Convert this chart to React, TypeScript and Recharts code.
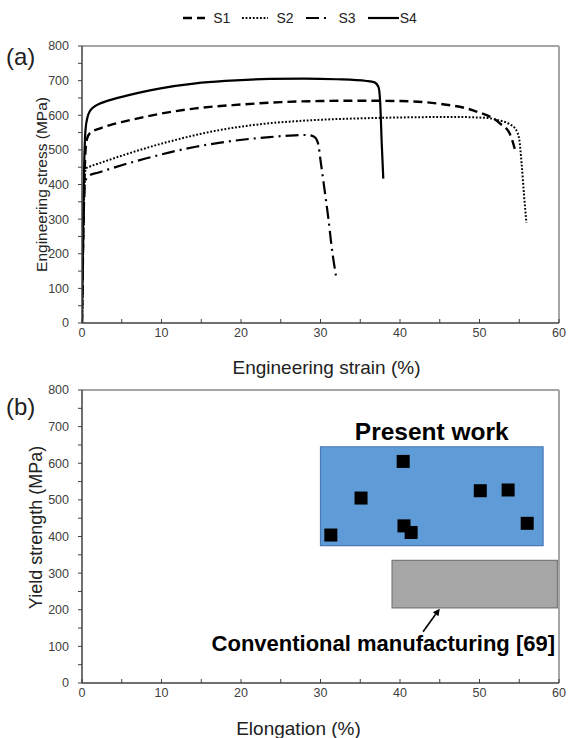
import {
  Label,
  Line,
  LineChart,
  ReferenceArea,
  ReferenceDot,
  ReferenceLine,
  Scatter,
  ScatterChart,
  XAxis,
  YAxis,
} from 'recharts';

// (a) engineering stress-strain curves
const s1Strain = [0, 0.2, 0.4, 0.6, 1.1, 2, 3.4, 5.5, 7.6, 10, 14.3, 20, 25, 30, 35, 40, 45, 49.2, 52.6, 53.8, 54.5];
const s1Stress = [0, 300, 480, 530, 551, 560, 571, 583, 594, 605, 620, 631, 638, 641, 642, 641, 633, 614, 576, 547, 498];

const s2Strain = [0, 0.2, 0.35, 0.5, 1, 2, 3.4, 5.5, 7.6, 10, 12, 14.3, 17, 20, 23.6, 27, 30, 35, 41, 47, 51, 52.5, 53.8, 54.6, 55, 55.3, 55.6, 55.9];
const s2Stress = [0, 300, 420, 446, 452, 460, 471, 487, 502, 518, 530, 543, 556, 567, 577, 583, 587, 591, 594, 595, 592, 585, 574, 558, 530, 460, 370, 289];

const s3Strain = [0, 0.2, 0.35, 0.6, 0.9, 2, 3.5, 5.5, 8, 10, 12, 14.3, 18, 23.6, 26, 28.3, 29.2, 29.7, 30, 30.4, 31, 31.4, 32];
const s3Stress = [0, 300, 400, 420, 426, 434, 445, 459, 475, 487, 498, 509, 523, 537, 541, 543, 538, 518, 470, 403, 300, 220, 129];

const s4Strain = [0, 0.15, 0.3, 0.45, 0.7, 1, 1.5, 2.2, 3, 5.5, 7.5, 9.7, 14.3, 18, 23.6, 28, 32, 35.8, 36.8, 37.3, 37.5, 37.7, 37.9];
const s4Stress = [0, 300, 480, 560, 595, 612, 624, 633, 640, 656, 667, 677, 692, 699, 705, 706, 704, 699, 695, 681, 640, 520, 417];

// (b) yield strength vs elongation
const elongation = [31.3, 35.1, 40.4, 40.5, 41.4, 50.1, 53.6, 56.0];
const yieldStrength = [404, 505, 605, 429, 411, 525, 527, 436];

const presentWorkRange = { elongation: [30, 58], strength: [375, 645] };
const conventionalRange = { elongation: [39, 59.8], strength: [205, 335] };

const strainTicks = [0, 5, 10, 15, 20, 25, 30, 35, 40, 45, 50, 55, 60];
const stressTicks = [0, 50, 100, 150, 200, 250, 300, 350, 400, 450, 500, 550, 600, 650, 700, 750, 800];

const zip = (xs: number[], ys: number[]) => xs.map((x, i) => ({ x, y: ys[i] }));

const series = [
  { name: 'S1', data: zip(s1Strain, s1Stress), dash: '9 5', width: 2.4 },
  { name: 'S2', data: zip(s2Strain, s2Stress), dash: '1.8 1.8', width: 2 },
  { name: 'S3', data: zip(s3Strain, s3Stress), dash: '13 5 2 5', width: 2.2 },
  { name: 'S4', data: zip(s4Strain, s4Stress), dash: undefined, width: 2.2 },
];

const points = zip(elongation, yieldStrength);

const FONT = '"Liberation Sans", Arial, sans-serif';
const AXIS = '#404040';
const BORDER = '#a6a6a6';

const XTick = ({ x, y, payload }: any) =>
  payload.value % 10 === 0 ? (
    <text x={x} y={y} dy="0.71em" textAnchor="middle" fontSize={12.5} fill={AXIS} fontFamily={FONT}>
      {payload.value}
    </text>
  ) : (
    <g />
  );

const YTick = ({ x, y, payload }: any) =>
  payload.value % 100 === 0 ? (
    <text x={x} y={y} dy="0.355em" textAnchor="end" fontSize={12.5} fill={AXIS} fontFamily={FONT}>
      {payload.value}
    </text>
  ) : (
    <g />
  );

const Square = ({ cx, cy }: any) => <rect x={cx - 6.5} y={cy - 6.5} width={13} height={13} fill="#000" />;

const Arrow = ({ x1, y1, x2, y2 }: any) => {
  const a = Math.atan2(y2 - y1, x2 - x1);
  const len = 7;
  const w = 3.5;
  const bx = x2 - len * Math.cos(a);
  const by = y2 - len * Math.sin(a);
  const px = -Math.sin(a) * w;
  const py = Math.cos(a) * w;
  return (
    <g>
      <line x1={x1} y1={y1} x2={bx} y2={by} stroke="#000" strokeWidth={1.6} />
      <polygon points={`${x2},${y2} ${bx + px},${by + py} ${bx - px},${by - py}`} fill="#000" />
    </g>
  );
};

const LegendSwatch = ({ dash, width, w }: { dash?: string; width: number; w: number }) => (
  <svg width={w} height={10} style={{ display: 'block' }}>
    <line x1={0} y1={5} x2={w} y2={5} stroke="#000" strokeWidth={width} strokeDasharray={dash} />
  </svg>
);

const legendWidths = [22, 26, 25, 31];

export default function App() {
  return (
    <div style={{ position: 'absolute', left: 0, top: 0, width: 568, height: 738, background: '#fff', fontFamily: FONT }}>
      <div
        style={{
          position: 'absolute',
          top: 10,
          left: 0,
          width: 612,
          display: 'flex',
          justifyContent: 'center',
          alignItems: 'center',
          fontSize: 14,
          color: '#222',
        }}
      >
        {series.map((s, i) => (
          <div key={s.name} style={{ display: 'flex', alignItems: 'center', marginRight: 12 }}>
            <LegendSwatch dash={s.dash} width={s.width} w={legendWidths[i]} />
            <span style={{ marginLeft: i === 3 ? 1 : 8 }}>{s.name}</span>
          </div>
        ))}
      </div>
      <div style={{ position: 'absolute', left: 6, top: 43, fontSize: 24, color: '#222' }}>(a)</div>
      <div style={{ position: 'absolute', left: 6, top: 393, fontSize: 24, color: '#222' }}>(b)</div>

      <div style={{ position: 'absolute', left: 0, top: 0 }}>
        <LineChart width={568} height={385} margin={{ top: 46, right: 9, left: 22, bottom: 32 }}>
          <XAxis
            type="number"
            dataKey="x"
            domain={[0, 60]}
            ticks={strainTicks}
            interval={0}
            allowDataOverflow
            height={30}
            tickSize={-4}
            tickMargin={9}
            tick={<XTick />}
            axisLine={{ stroke: AXIS, strokeWidth: 1.5 }}
            tickLine={{ stroke: AXIS }}
          >
            <Label value="Engineering strain (%)" position="bottom" offset={7.5} dx={6} fontSize={19} fill="#222" fontFamily={FONT} />
          </XAxis>
          <YAxis
            type="number"
            dataKey="y"
            domain={[0, 800]}
            ticks={stressTicks}
            interval={0}
            width={60}
            tickSize={4}
            tickMargin={9}
            tick={<YTick />}
            axisLine={{ stroke: AXIS, strokeWidth: 1.5 }}
            tickLine={{ stroke: AXIS }}
          >
            <Label value="Engineering stress (MPa)" angle={-90} position="center" dx={-11} fontSize={15.5} fill="#222" fontFamily={FONT} />
          </YAxis>
          <ReferenceLine y={800} stroke={BORDER} strokeWidth={2} />
          <ReferenceLine x={60} stroke={BORDER} strokeWidth={2} />
          {series.map((s) => (
            <Line
              key={s.name}
              data={s.data}
              dataKey="y"
              name={s.name}
              type="monotone"
              stroke="#000"
              strokeWidth={s.width}
              strokeDasharray={s.dash}
              dot={false}
              activeDot={false}
              isAnimationActive={false}
            />
          ))}
        </LineChart>
      </div>

      <div style={{ position: 'absolute', left: 0, top: 375 }}>
        <ScatterChart width={568} height={363} margin={{ top: 15, right: 9, left: 22, bottom: 25 }}>
          <XAxis
            type="number"
            dataKey="x"
            domain={[0, 60]}
            ticks={strainTicks}
            interval={0}
            height={30}
            tickSize={-4}
            tickMargin={9}
            tick={<XTick />}
            axisLine={{ stroke: AXIS, strokeWidth: 1.5 }}
            tickLine={{ stroke: AXIS }}
          >
            <Label value="Elongation (%)" position="bottom" offset={8.5} dx={-22} fontSize={19} fill="#222" fontFamily={FONT} />
          </XAxis>
          <YAxis
            type="number"
            dataKey="y"
            domain={[0, 800]}
            ticks={stressTicks}
            interval={0}
            width={60}
            tickSize={4}
            tickMargin={9}
            tick={<YTick />}
            axisLine={{ stroke: AXIS, strokeWidth: 1.5 }}
            tickLine={{ stroke: AXIS }}
          >
            <Label value="Yield strength (MPa)" angle={-90} position="center" dx={-16} dy={-9} fontSize={18} fill="#222" fontFamily={FONT} />
          </YAxis>
          <ReferenceLine y={800} stroke={BORDER} strokeWidth={2} />
          <ReferenceLine x={60} stroke={BORDER} strokeWidth={2} />
          <ReferenceArea
            x1={presentWorkRange.elongation[0]}
            x2={presentWorkRange.elongation[1]}
            y1={presentWorkRange.strength[0]}
            y2={presentWorkRange.strength[1]}
            fill="#5f9bd6"
            fillOpacity={1}
            stroke="#4a7ab5"
            strokeWidth={1.2}
          >
            <Label value="Present work" position="top" offset={7} fontSize={24.5} fontWeight={700} fill="#000" fontFamily={FONT} />
          </ReferenceArea>
          <ReferenceArea
            x1={conventionalRange.elongation[0]}
            x2={conventionalRange.elongation[1]}
            y1={conventionalRange.strength[0]}
            y2={conventionalRange.strength[1]}
            fill="#a6a6a6"
            fillOpacity={1}
            stroke="#7a7a7a"
            strokeWidth={1.2}
          />
          <ReferenceLine segment={[{ x: 42.9, y: 140 }, { x: 45, y: 203 }]} shape={<Arrow />} />
          <ReferenceDot x={37.9} y={109} r={0} fill="none" stroke="none">
            <Label value="Conventional manufacturing [69]" position="center" fontSize={22} fontWeight={700} fill="#000" fontFamily={FONT} />
          </ReferenceDot>
          <Scatter data={points} shape={<Square />} isAnimationActive={false} />
        </ScatterChart>
      </div>
    </div>
  );
}
